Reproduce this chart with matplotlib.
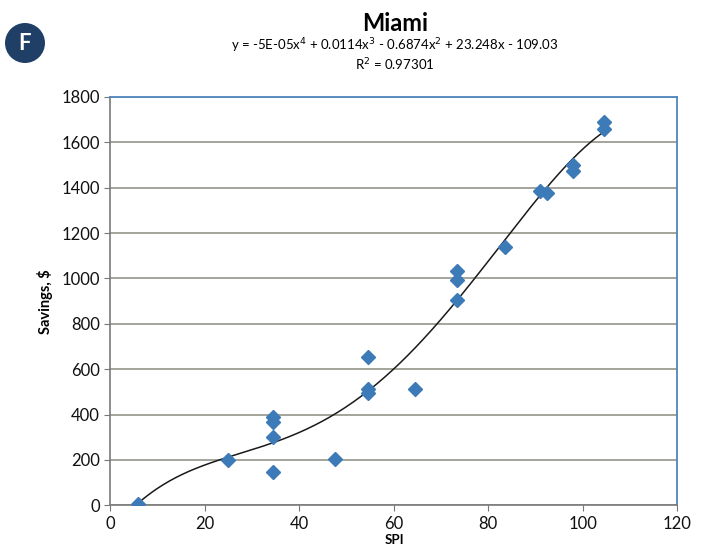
import numpy as np
import matplotlib.pyplot as plt
from matplotlib.patches import Circle

plt.rcParams['font.family'] = ['Lato', 'DejaVu Sans']

# SPI vs savings, Miami
spi = [6, 25, 34.5, 34.5, 34.5, 34.5, 47.5, 54.5, 54.5, 54.5, 64.5,
       73.5, 73.5, 73.5, 83.5, 91, 92.5, 98, 98, 104.5, 104.5]
savings = [5, 200, 390, 365, 300, 145, 205, 655, 513, 497, 512,
           1033, 992, 903, 1137, 1384, 1376, 1499, 1473, 1690, 1660]

title = "Miami"
equation = "y = -5E-05x$^4$ + 0.0114x$^3$ - 0.6874x$^2$ + 23.248x - 109.03"
r2_text = "R$^2$ = 0.97301"
x_ticks = [0, 20, 40, 60, 80, 100, 120]
y_ticks = list(range(0, 1801, 200))

marker_blue = '#3d7ab8'
border_blue = '#4f86bf'
grid_col = '#8c8c80'

fig = plt.figure(figsize=(7.01, 5.48), dpi=100)
ax = fig.add_axes([0.157, 0.078, 0.809, 0.745])

# 4th order polynomial trendline
coef = np.polyfit(spi, savings, 4)
xs = np.linspace(min(spi), max(spi), 300)
ax.plot(xs, np.polyval(coef, xs), color='#1a1a1a', lw=1.1, zorder=2)

ax.plot(spi, savings, 'D', color=marker_blue, ms=7.5, mec=marker_blue, zorder=3)

ax.set_xlim(0, 120)
ax.set_ylim(0, 1800)
ax.set_xticks(x_ticks)
ax.set_yticks(y_ticks)
ax.tick_params(labelsize=12, length=4, color='#777777', labelcolor='#111111')
ax.yaxis.grid(True, color=grid_col, lw=1.1)
ax.set_axisbelow(True)

for side in ('left', 'bottom'):
    ax.spines[side].set_color('#7a7a7a')
    ax.spines[side].set_linewidth(1.2)
for side in ('top', 'right'):
    ax.spines[side].set_color(border_blue)
    ax.spines[side].set_linewidth(1.3)

ax.set_ylabel("Savings, $", fontsize=10.5, fontweight='bold', labelpad=6)

fig.text(0.563, 0.958, title, ha='center', va='center', fontsize=17, fontweight='bold')
fig.text(0.563, 0.917, equation, ha='center', va='center', fontsize=9.5)
fig.text(0.563, 0.882, r2_text, ha='center', va='center', fontsize=9.5)
fig.text(0.563, 0.004, "SPI", ha='center', va='bottom', fontsize=9.5, fontweight='bold')

# section badge, drawn in inches so it stays round
badge = Circle((0.25, 5.05), 0.2, transform=fig.dpi_scale_trans,
               facecolor='#1f3f66', edgecolor='none')
fig.patches.append(badge)
fig.text(0.25, 5.05, "F", transform=fig.dpi_scale_trans, ha='center', va='center',
         fontsize=16, fontweight='bold', color='white')

fig.savefig('out.png', dpi=100)
